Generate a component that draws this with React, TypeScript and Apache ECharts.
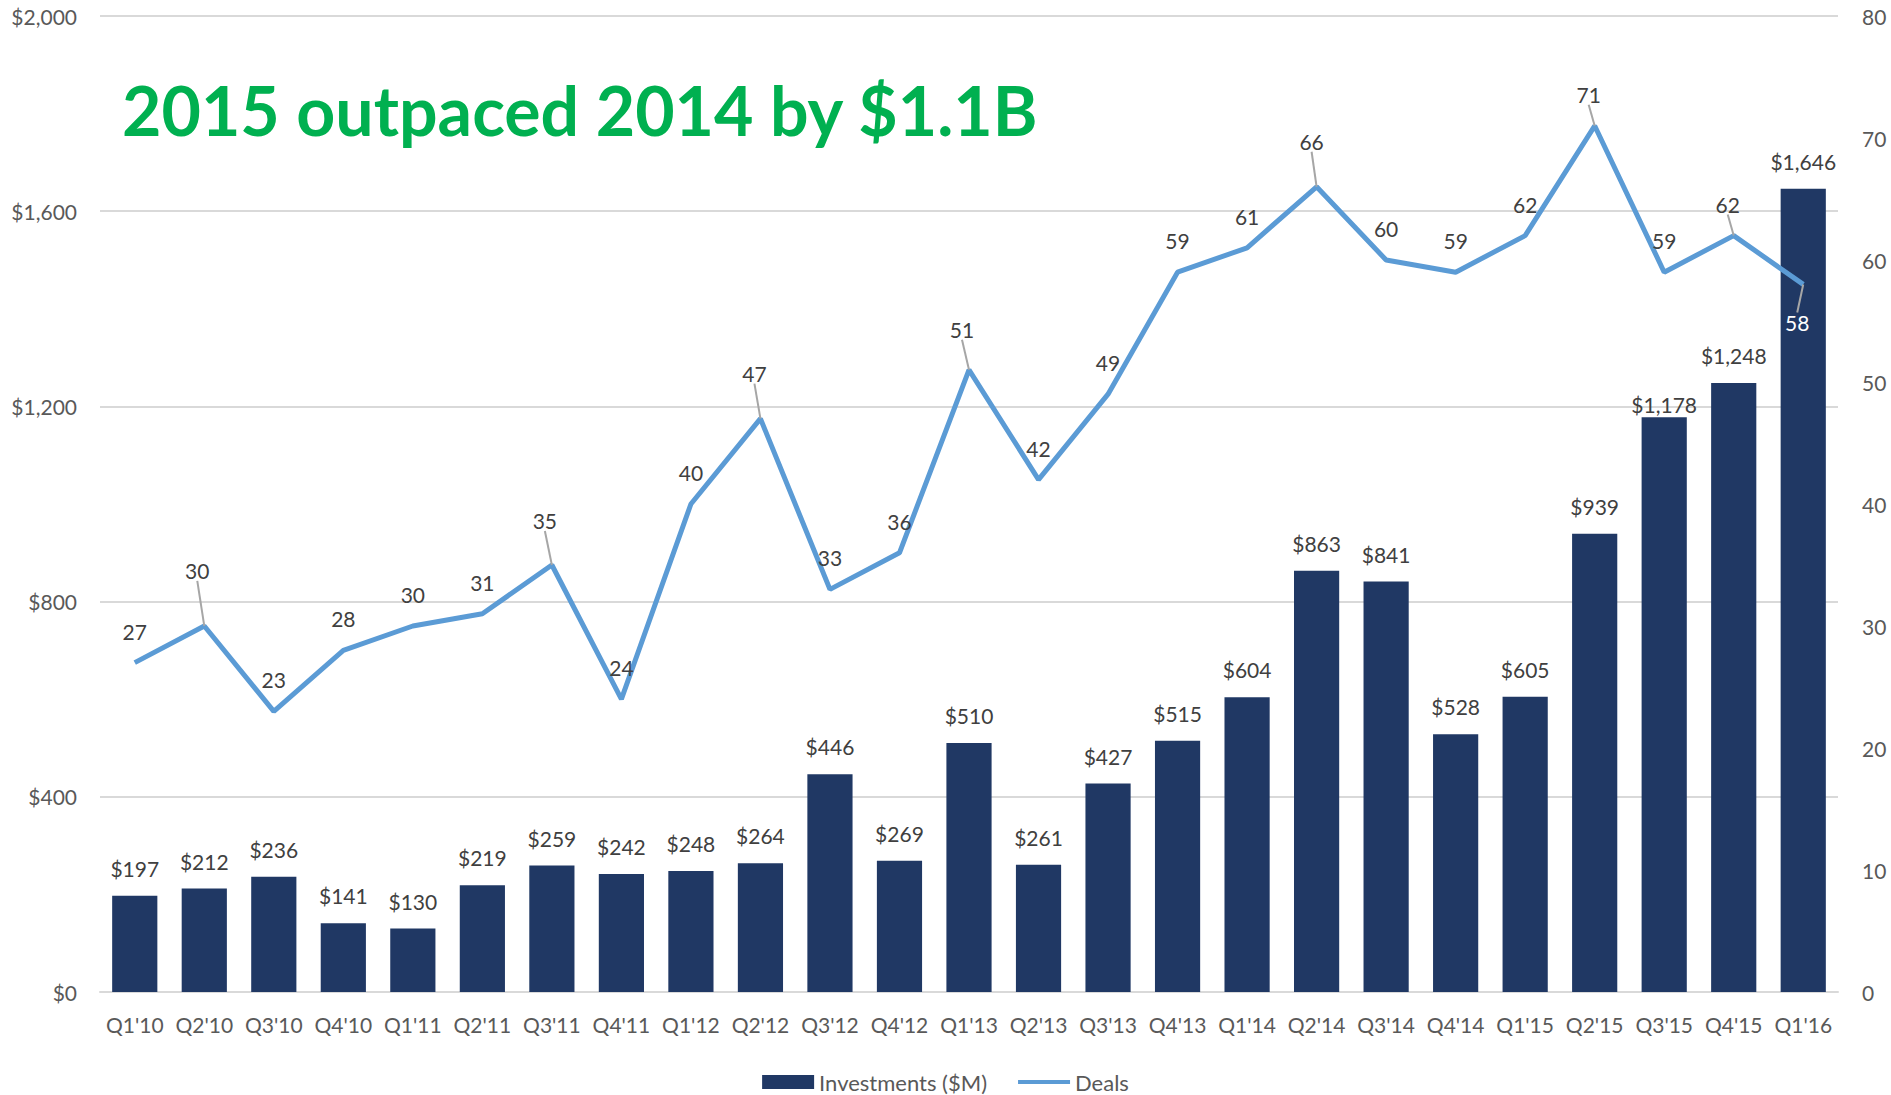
import React, { useEffect, useRef } from "react";
import * as echarts from "echarts";

const categories = ["Q1'10","Q2'10","Q3'10","Q4'10","Q1'11","Q2'11","Q3'11","Q4'11","Q1'12","Q2'12","Q3'12","Q4'12","Q1'13","Q2'13","Q3'13","Q4'13","Q1'14","Q2'14","Q3'14","Q4'14","Q1'15","Q2'15","Q3'15","Q4'15","Q1'16"];
const investments = [197,212,236,141,130,219,259,242,248,264,446,269,510,261,427,515,604,863,841,528,605,939,1178,1248,1646];
const deals = [27,30,23,28,30,31,35,24,40,47,33,36,51,42,49,59,61,66,60,59,62,71,59,62,58];
const leftTicks = { min: 0, max: 2000, interval: 400 };
const rightTicks = { min: 0, max: 80, interval: 10 };
const titleText = "2015 outpaced 2014 by $1.1B";

const FONT = "Lato";
const GRAY = "#595959";
const LABEL = "#404040";
const FS = 21;
// label displacement (leader-lined labels) by data index: [dx, dy]
const leaderShift: Record<number, [number, number]> = {
  1: [-7, -24],
  6: [-7, -13],
  9: [-6, -14],
  12: [-7, -9],
  17: [-5, -14],
  21: [-6, 0],
  23: [-6, 0],
  24: [-6, 18],
};

export default function App() {
  const ref = useRef<HTMLDivElement>(null);
  useEffect(() => {
    document.body.style.margin = "0";
    const chart = echarts.init(ref.current!, null, { renderer: "svg" });
    const dealData = deals.map((v, i) => {
      const item: any = { value: v };
      if (!(i in leaderShift)) item.labelLine = { show: false };
      if (i === deals.length - 1) {
        item.label = { position: "bottom", color: "#ffffff", distance: 10 };
      }
      return item;
    });
    const barData = investments.map((v, i) => {
      const item: any = { value: v };
      if (i === 22) item.label = { distance: 2 };
      return item;
    });
    chart.setOption({
      animation: false,
      textStyle: { fontFamily: FONT },
      grid: { left: 100, right: 53, top: 16, bottom: 103, containLabel: false },
      graphic: [
        {
          type: "text",
          left: 122,
          top: 75,
          style: {
            text: titleText,
            fill: "#00B050",
            font: `bold 68px ${FONT}`,
          },
        },
      ],
      legend: {
        bottom: -3,
        left: "center",
        itemGap: 31,
        itemWidth: 52,
        itemHeight: 14,
        textStyle: { color: GRAY, fontSize: 22, fontFamily: FONT },
        data: [
          { name: "Investments ($M)", icon: "rect" },
          { name: "Deals", icon: "path://M0,0 L52,0 L52,4 L0,4 Z", itemStyle: { color: "#5B9BD5" } },
        ],
      },
      xAxis: {
        type: "category",
        data: categories,
        axisTick: { show: false },
        axisLine: { lineStyle: { color: "#D9D9D9", width: 2 } },
        axisLabel: { color: GRAY, fontSize: FS, margin: 22, fontFamily: FONT, interval: 0 },
      },
      yAxis: [
        {
          type: "value",
          ...leftTicks,
          axisLabel: {
            color: GRAY,
            fontSize: FS,
            margin: 23,
            fontFamily: FONT,
            formatter: (v: number) => "$" + v.toLocaleString("en-US"),
          },
          axisLine: { show: false },
          axisTick: { show: false },
          splitLine: { lineStyle: { color: "#D9D9D9", width: 2 } },
        },
        {
          type: "value",
          ...rightTicks,
          position: "right",
          axisLabel: { color: GRAY, fontSize: FS, margin: 24, fontFamily: FONT },
          axisLine: { show: false },
          axisTick: { show: false },
          splitLine: { show: false },
        },
      ],
      series: [
        {
          name: "Investments ($M)",
          type: "bar",
          data: barData,
          barWidth: "65%",
          itemStyle: { color: "#203864" },
          label: {
            show: true,
            position: "top",
            distance: 17,
            color: LABEL,
            fontSize: FS,
            fontFamily: FONT,
            formatter: (p: any) => "$" + Number(p.value).toLocaleString("en-US"),
          },
          z: 2,
        },
        {
          name: "Deals",
          type: "line",
          yAxisIndex: 1,
          data: dealData,
          symbol: "circle",
          symbolSize: 0.1,
          showSymbol: true,
          lineStyle: { color: "#5B9BD5", width: 5 },
          itemStyle: { color: "#5B9BD5" },
          label: {
            show: true,
            position: "top",
            distance: 21,
            color: LABEL,
            fontSize: FS,
            fontFamily: FONT,
          },
          labelLine: { show: true, lineStyle: { color: "#A6A6A6", width: 2 } },
          labelLayout: (params: any) => {
            const s = leaderShift[params.dataIndex];
            if (!s) return {};
            return { dx: s[0], dy: s[1] };
          },
          z: 3,
        },
      ],
    });
    return () => chart.dispose();
  }, []);
  return <div ref={ref} style={{ width: 1891, height: 1095 }} />;
}
